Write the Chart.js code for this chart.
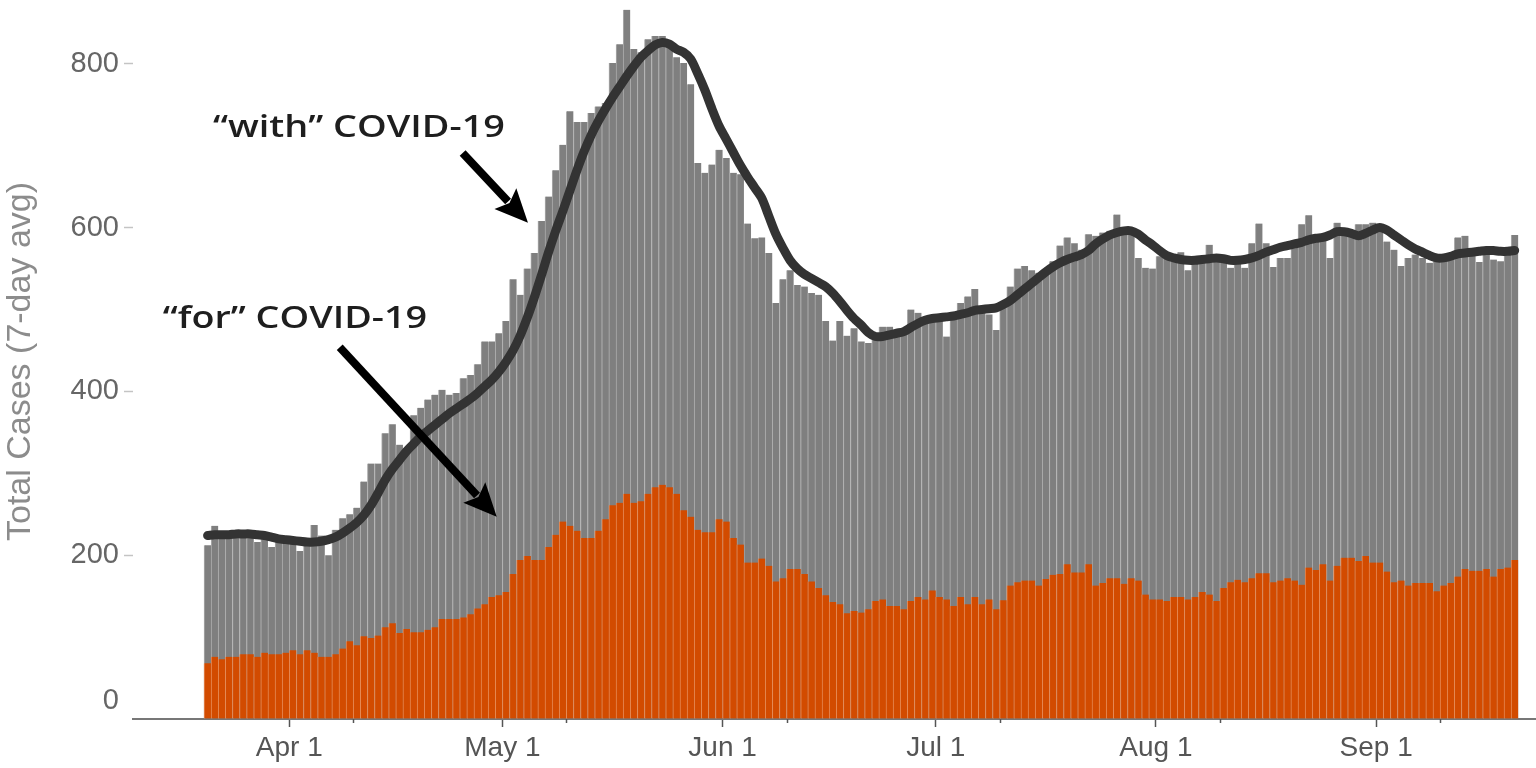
<!DOCTYPE html>
<html>
<head>
<meta charset="utf-8">
<title>Total Cases (7-day avg)</title>
<script src="https://cdn.jsdelivr.net/npm/chart.js@4.4.1/dist/chart.umd.min.js"></script>
<style>
    html, body { margin: 0; padding: 0; background: #ffffff; }
    #chartWrap { position: relative; width: 1536px; height: 768px; }
</style>
</head>
<body>
<div id="chartWrap"><canvas id="casesChart"></canvas></div>
<script>
// Daily values, first bar is Mar 20 (index 0), last is Sep 20 (index 184)
const startDate = new Date(2020, 2, 20);

// grey bars: total hospitalised "with" COVID-19
const totalCases = [
    212, 236, 227, 225, 227, 223, 227, 216, 222, 210,
    217, 214, 216, 205, 214, 237, 224, 200, 231, 245,
    250, 258, 290, 312, 312, 349, 360, 335, 331, 371,
    380, 390, 396, 402, 396, 398, 416, 420, 433, 461,
    461, 471, 486, 537, 518, 550, 569, 608, 638, 670,
    701, 742, 729, 729, 740, 748, 752, 801, 824, 866,
    818, 814, 830, 834, 834, 828, 808, 801, 775, 679,
    667, 677, 695, 685, 667, 665, 605, 587, 588, 569,
    508, 537, 548, 530, 528, 520, 518, 486, 462, 486,
    468, 477, 461, 459, 465, 479, 479, 471, 470, 500,
    496, 488, 490, 492, 467, 490, 508, 516, 525, 500,
    494, 475, 508, 528, 550, 553, 548, 545, 549, 559,
    578, 588, 581, 573, 592, 590, 594, 596, 616, 600,
    596, 563, 551, 550, 565, 563, 563, 570, 548, 557,
    563, 579, 561, 557, 551, 559, 551, 581, 605, 581,
    552, 563, 563, 579, 604, 615, 583, 585, 563, 606,
    596, 592, 604, 604, 606, 600, 583, 573, 553, 563,
    567, 563, 557, 559, 563, 563, 588, 590, 573, 558,
    573, 561, 559, 567, 591
];

// orange bars: hospitalised "for" COVID-19
const forCovid = [
     68,  76,  73,  76,  76,  79,  79,  76,  81,  79,
     79,  81,  84,  79,  84,  81,  76,  76,  79,  86,
     95,  90, 101,  99, 102, 112, 117, 105, 110, 106,
    106, 109, 112, 122, 122, 122, 124, 128, 135, 140,
    149, 151, 155, 177, 194, 199, 194, 194, 210, 225,
    241, 236, 230, 221, 221, 230, 244, 261, 264, 275,
    264, 266, 275, 283, 286, 283, 275, 255, 247, 231,
    228, 228, 244, 241, 221, 213, 191, 191, 196, 187,
    168, 172, 183, 183, 177, 168, 160, 151, 143, 140,
    129, 132, 130, 134, 144, 146, 138, 138, 134, 144,
    149, 146, 157, 149, 146, 138, 149, 140, 149, 140,
    146, 134, 145, 163, 167, 169, 169, 163, 171, 176,
    177, 189, 179, 179, 189, 163, 166, 172, 172, 165,
    172, 169, 152, 146, 146, 144, 149, 149, 146, 149,
    155, 152, 144, 160, 167, 170, 167, 172, 178, 178,
    167, 169, 172, 169, 164, 185, 182, 189, 169, 187,
    197, 197, 193, 199, 191, 191, 180, 167, 169, 163,
    166, 166, 166, 156, 163, 166, 174, 183, 181, 181,
    183, 174, 183, 185, 194
];

// dark line: "with" COVID-19, smoothed
const withCovidAvg = [
    224, 225, 225, 225, 226, 226, 226, 225, 224, 222,
    220, 219, 218, 217, 216, 216, 217, 219, 222, 227,
    233, 240, 249, 261, 276, 292, 305, 316, 327, 336,
    345, 352, 359, 366, 373, 379, 385, 391, 398, 406,
    414, 424, 436, 450, 468, 490, 515, 542, 570, 596,
    620, 645, 670, 693, 713, 730, 745, 759, 772, 785,
    797, 808, 816, 823, 826, 824, 818, 814, 806, 788,
    768, 745, 724, 708, 692, 676, 662, 649, 636, 614,
    592, 575, 560, 550, 543, 538, 533, 528, 520, 510,
    499, 489, 481, 472, 467, 467, 469, 471, 473, 478,
    483, 487, 489, 490, 491, 492, 494, 496, 499, 500,
    501, 502, 506, 511, 518, 525, 532, 539, 546, 552,
    557, 561, 564, 567, 572, 580, 586, 591, 594, 596,
    596, 592, 585, 579, 572, 566, 563, 561, 560, 560,
    561, 562, 563, 562, 560, 560, 561, 563, 566, 570,
    573, 576, 578, 580, 582, 585, 587, 588, 591, 595,
    595, 593, 590, 593, 597, 600, 597, 591, 585, 579,
    574, 570, 566, 563, 563, 565, 568, 569, 570, 571,
    572, 572, 571, 571, 572
];

// x-axis ticks (day index of the 1st of each month) and the small in-between ticks
const monthTickDays = [12, 42, 73, 103, 134, 165];
const monthTickLabels = ['Apr 1', 'May 1', 'Jun 1', 'Jul 1', 'Aug 1', 'Sep 1'];
const minorTickDays = [21, 51, 82, 112, 143, 174];
const yTickValues = [0, 200, 400, 600, 800];

// annotation text + arrows (data units: x = day index, y = cases)
const notes = [
    { text: '\u201Cwith\u201D COVID-19', x: 0.75, y: 710, span: 41.1, from: [35.9, 691], to: [45.1, 606] },
    { text: '\u201Cfor\u201D COVID-19', x: -6.3, y: 477, span: 37.2, from: [18.6, 454], to: [40.7, 247] }
];

const tickFont = "'Liberation Sans', Arial, sans-serif";

function toPoints(arr) {
    return arr.map((v, i) => ({ x: i, y: v }));
}

function dayLabel(i) {
    const d = new Date(startDate);
    d.setDate(d.getDate() + i);
    return d.toLocaleDateString('en-US', { month: 'short', day: 'numeric' });
}

function drawArrow(ctx, x1, y1, x2, y2) {
    const ang = Math.atan2(y2 - y1, x2 - x1);
    const headLen = 33;
    const headHalf = 15;
    const cos = Math.cos(ang), sin = Math.sin(ang);
    const bx = x2 - headLen * cos;
    const by = y2 - headLen * sin;

    ctx.strokeStyle = '#000';
    ctx.fillStyle = '#000';
    ctx.lineWidth = 8;
    ctx.lineCap = 'butt';
    ctx.beginPath();
    ctx.moveTo(x1, y1);
    ctx.lineTo(bx + 4 * cos, by + 4 * sin);
    ctx.stroke();

    ctx.beginPath();
    ctx.moveTo(x2, y2);
    ctx.lineTo(bx - headHalf * sin, by + headHalf * cos);
    ctx.lineTo(bx + 6 * cos, by + 6 * sin);
    ctx.lineTo(bx + headHalf * sin, by - headHalf * cos);
    ctx.closePath();
    ctx.fill();
}

// extra drawing: raised "0" label, minor x ticks, annotations
const extrasPlugin = {
    id: 'extras',
    afterDraw(chart) {
        const ctx = chart.ctx;
        const xs = chart.scales.x;
        const ys = chart.scales.y;
        const area = chart.chartArea;

        ctx.save();

        // "0" sits a bit above the axis line in the original
        ctx.font = '29px ' + tickFont;
        ctx.fillStyle = '#666';
        ctx.textAlign = 'right';
        ctx.textBaseline = 'middle';
        ctx.fillText('0', area.left - 14, ys.getPixelForValue(0) - 18);

        // short minor ticks under the axis
        ctx.strokeStyle = '#555';
        ctx.lineWidth = 1.5;
        minorTickDays.forEach(d => {
            const px = Math.round(xs.getPixelForValue(d - 0.5)) + 0.5;
            ctx.beginPath();
            ctx.moveTo(px, area.bottom);
            ctx.lineTo(px, area.bottom + 4);
            ctx.stroke();
        });

        // annotations
        notes.forEach(n => {
            const x0 = xs.getPixelForValue(n.x);
            const x1 = xs.getPixelForValue(n.x + n.span);
            ctx.save();
            ctx.font = "600 30px 'Open Sans', 'Noto Sans', sans-serif";
            ctx.fillStyle = '#1e1e1e';
            ctx.textAlign = 'left';
            ctx.textBaseline = 'alphabetic';
            const w = ctx.measureText(n.text).width;
            ctx.translate(x0, ys.getPixelForValue(n.y));
            ctx.scale((x1 - x0) / w, 1);
            ctx.fillText(n.text, 0, 0);
            ctx.restore();

            drawArrow(ctx,
                xs.getPixelForValue(n.from[0]), ys.getPixelForValue(n.from[1]),
                xs.getPixelForValue(n.to[0]), ys.getPixelForValue(n.to[1]));
        });

        ctx.restore();
    }
};

document.addEventListener('DOMContentLoaded', function() {
    const ctx = document.getElementById('casesChart').getContext('2d');
    const casesChart = new Chart(ctx, {
        type: 'bar',
        data: {
            datasets: [
                {
                    type: 'line',
                    label: '"with" COVID-19 (avg)',
                    data: toPoints(withCovidAvg),
                    borderColor: '#333333',
                    borderWidth: 9,
                    borderCapStyle: 'round',
                    borderJoinStyle: 'round',
                    pointRadius: 0,
                    tension: 0.3,
                    order: 0
                },
                {
                    label: '"for" COVID-19',
                    data: toPoints(forCovid),
                    backgroundColor: '#d24b00',
                    borderColor: '#e58a55',
                    borderWidth: { left: 1, right: 0, top: 0, bottom: 0 },
                    borderSkipped: false,
                    grouped: false,
                    barPercentage: 1,
                    categoryPercentage: 1,
                    order: 1
                },
                {
                    label: 'Total Cases',
                    data: toPoints(totalCases),
                    backgroundColor: '#7f7f7f',
                    borderColor: '#acacac',
                    borderWidth: { left: 1, right: 0, top: 0, bottom: 0 },
                    borderSkipped: false,
                    grouped: false,
                    barPercentage: 1,
                    categoryPercentage: 1,
                    order: 2
                }
            ]
        },
        options: {
            responsive: true,
            maintainAspectRatio: false,
            animation: false,
            layout: {
                padding: { top: 4, right: 0, bottom: 0, left: 0 }
            },
            plugins: {
                legend: { display: false },
                tooltip: {
                    callbacks: {
                        title: items => dayLabel(items[0].parsed.x)
                    }
                }
            },
            scales: {
                x: {
                    type: 'linear',
                    min: -10.5,
                    max: 187,
                    offset: false,
                    afterBuildTicks: scale => {
                        scale.ticks = monthTickDays.map(d => ({ value: d - 0.5 }));
                    },
                    afterFit: scale => {
                        scale.height = 49;
                        scale.paddingLeft = 0;
                        scale.paddingRight = 0;
                    },
                    ticks: {
                        autoSkip: false,
                        maxRotation: 0,
                        padding: 4,
                        color: '#555',
                        font: { family: tickFont, size: 28 },
                        callback: value => {
                            const k = monthTickDays.indexOf(value + 0.5);
                            return k >= 0 ? monthTickLabels[k] : '';
                        }
                    },
                    grid: {
                        offset: false,
                        drawOnChartArea: false,
                        drawTicks: true,
                        tickLength: 8,
                        tickColor: '#555',
                        tickWidth: 1.5
                    },
                    border: { display: true, color: '#777', width: 2 }
                },
                y: {
                    min: 0,
                    max: 873,
                    afterBuildTicks: scale => {
                        scale.ticks = yTickValues.map(v => ({ value: v }));
                    },
                    afterFit: scale => {
                        scale.width = 133;
                        scale.paddingTop = 0;
                        scale.paddingBottom = 0;
                    },
                    ticks: {
                        padding: 5,
                        color: '#666',
                        font: { family: tickFont, size: 29 },
                        callback: value => value === 0 ? '' : value
                    },
                    grid: {
                        drawOnChartArea: false,
                        tickLength: 9,
                        tickWidth: 1.5,
                        tickColor: c => (c.tick && c.tick.value === 0) ? 'rgba(0,0,0,0)' : '#c4c4c4'
                    },
                    border: { display: false },
                    title: {
                        display: true,
                        text: 'Total Cases (7-day avg)',
                        color: '#8c8c8c',
                        font: { family: tickFont, size: 34 },
                        padding: { top: 0, bottom: 0 }
                    }
                }
            }
        },
        plugins: [extrasPlugin]
    });
});
</script>
</body>
</html>
